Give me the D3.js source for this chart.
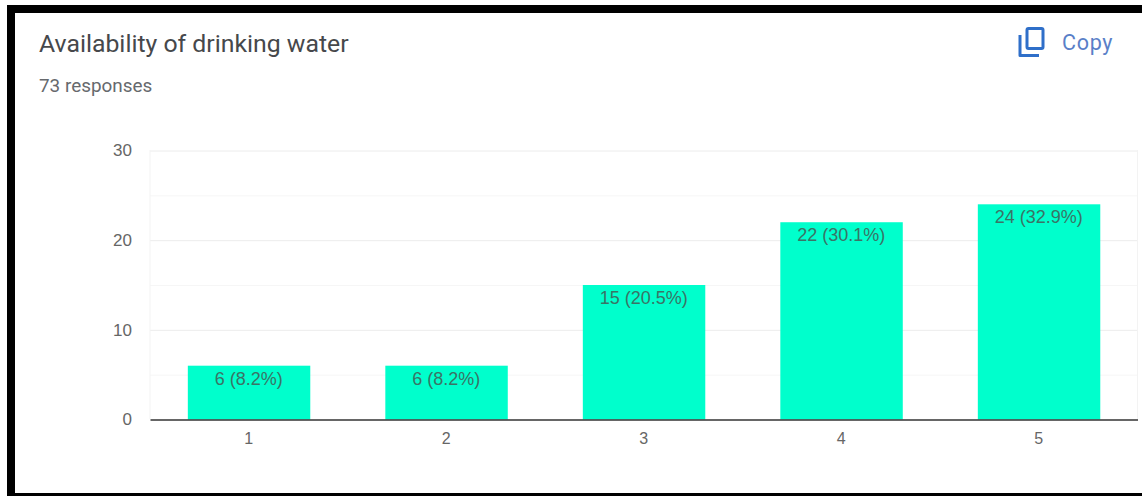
<!DOCTYPE html>
<html><head><meta charset="utf-8">
<style>html,body{margin:0;padding:0;background:#fff;overflow:hidden}svg{display:block}</style>
<script src="https://cdnjs.cloudflare.com/ajax/libs/d3/7.8.5/d3.min.js"></script>
</head><body><script>
const title="Availability of drinking water";
const subtitle="73 responses";
const copyLabel="Copy";
const categories=["1","2","3","4","5"];
const counts=[6,6,15,22,24];
const labels=["6 (8.2%)","6 (8.2%)","15 (20.5%)","22 (30.1%)","24 (32.9%)"];
const majorTicks=[0,10,20,30];
const minorTicks=[5,15,25];

const W=1142,H=496;
const arial="'Liberation Sans',Arial,sans-serif";
const roboto="Roboto,sans-serif";
const svg=d3.select("body").append("svg").attr("width",W).attr("height",H);
const x=d3.scaleBand().domain(categories).range([150,1137.5]).paddingInner(0.38).paddingOuter(0.19);
const y=d3.scaleLinear().domain([0,30]).range([419.5,150.5]);

// screenshot frame
svg.append("rect").attr("x",7).attr("y",5).attr("width",W-7).attr("height",8).attr("fill","#000");
svg.append("rect").attr("x",7).attr("y",5).attr("width",8).attr("height",H-5).attr("fill","#000");
svg.append("rect").attr("x",7).attr("y",493).attr("width",W-7).attr("height",3).attr("fill","#000");

svg.append("text").attr("x",39).attr("y",52).attr("font-family",roboto).attr("font-size",24.8).attr("fill","#46484b").text(title);
svg.append("text").attr("x",39).attr("y",92).attr("font-family",roboto).attr("font-size",18.9).attr("fill","#66696d").text(subtitle);

// copy icon
const ic=svg.append("g").attr("fill","none").attr("stroke","#2f6fc9").attr("stroke-width",3).attr("stroke-linejoin","round");
ic.append("rect").attr("x",1027).attr("y",28.5).attr("width",16).attr("height",20).attr("rx",1.5);
ic.append("path").attr("d","M1020 35V55.5H1039");
svg.append("text").attr("x",1062).attr("y",49.5).attr("font-family",roboto).attr("font-size",21.5).attr("letter-spacing",0.7).attr("fill","#5a7fc8").text(copyLabel);

// gridlines via axis
const gridMinor=svg.append("g").attr("transform","translate(150,0)")
  .call(d3.axisRight(y).tickValues(minorTicks).tickSize(987.5).tickFormat(""));
gridMinor.select(".domain").remove();
gridMinor.selectAll("line").attr("stroke","#f6f6f6");
const gridMajor=svg.append("g").attr("transform","translate(150,0)")
  .call(d3.axisRight(y).tickValues(majorTicks.filter(d=>d>0)).tickSize(987.5).tickFormat(""));
gridMajor.select(".domain").remove();
gridMajor.selectAll("line").attr("stroke","#ececec");
svg.append("line").attr("x1",150).attr("x2",150).attr("y1",150).attr("y2",419).attr("stroke","#f3f3f3");
svg.append("line").attr("x1",1137.5).attr("x2",1137.5).attr("y1",150).attr("y2",419).attr("stroke","#f3f3f3");

// y labels
const yAxis=svg.append("g").attr("transform","translate(132,0)")
  .call(d3.axisLeft(y).tickValues(majorTicks).tickSize(0).tickPadding(0));
yAxis.select(".domain").remove();
yAxis.attr("font-family",arial).attr("font-size",17);
yAxis.selectAll("text").attr("fill","#666");

// bars
const idx=d3.range(categories.length);
svg.append("g").selectAll("rect").data(idx).join("rect")
  .attr("x",i=>x(categories[i])+0.3).attr("width",x.bandwidth())
  .attr("y",i=>y(counts[i])).attr("height",i=>y(0)-y(counts[i])).attr("fill","#00ffcc");

svg.append("g").selectAll("text").data(idx).join("text")
  .attr("x",i=>x(categories[i])+x.bandwidth()/2).attr("y",i=>y(counts[i])+19)
  .attr("text-anchor","middle").attr("font-family",arial).attr("font-size",18).attr("fill","#3a7466").text(i=>labels[i]);

// x axis
const xAxis=svg.append("g").attr("transform","translate(0,419.5)")
  .call(d3.axisBottom(x).tickSize(0).tickPadding(13));
xAxis.attr("font-family",arial).attr("font-size",16);
xAxis.select(".domain").attr("stroke","#333").attr("stroke-width",1.6);
xAxis.selectAll("text").attr("fill","#666");
</script></body></html>
